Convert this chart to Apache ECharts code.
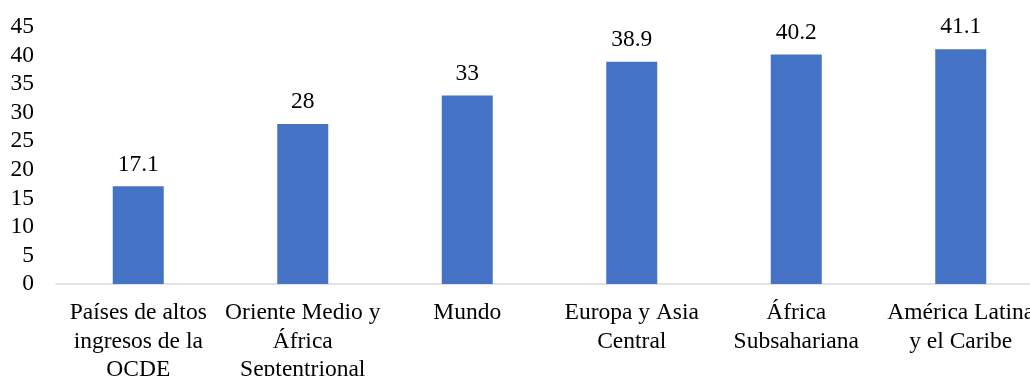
<!DOCTYPE html>
<html>
<head>
<meta charset="utf-8">
<script src="https://cdn.jsdelivr.net/npm/echarts@6/dist/echarts.min.js"></script>
<style>
  html, body { margin: 0; padding: 0; background: #ffffff; }
  #chart { width: 1030px; height: 376px; }
</style>
</head>
<body>
<div id="chart"></div>
<script>
// Regions (line breaks as shown under each bar)
const categories = [
  'Países de altos\ningresos de la\nOCDE',
  'Oriente Medio y\nÁfrica\nSeptentrional',
  'Mundo',
  'Europa y Asia\nCentral',
  'África\nSubsahariana',
  'América Latina\ny el Caribe'
];
// Value per region
const values = [17.1, 28, 33, 38.9, 40.2, 41.1];
// Value axis range
const yMin = 0;
const yMax = 45;
const yStep = 5;

const serif = '"Liberation Serif", "Times New Roman", serif';
const chart = echarts.init(document.getElementById('chart'), null, { renderer: 'canvas' });
chart.setOption({
  animation: false,
  backgroundColor: '#ffffff',
  grid: {
    left: 56, top: 27, width: 987, height: 257,
    containLabel: false,
    outerBoundsMode: 'none'
  },
  xAxis: {
    type: 'category',
    data: categories,
    axisLine: { show: true, lineStyle: { color: '#d9d9d9', width: 1.5 } },
    axisTick: { show: false },
    axisLabel: {
      interval: 0,
      margin: 15,
      color: '#000000',
      fontFamily: serif,
      fontSize: 23.5,
      lineHeight: 28.5,
      align: 'center',
      hideOverlap: false
    }
  },
  yAxis: {
    type: 'value',
    min: yMin,
    max: yMax,
    interval: yStep,
    axisLine: { show: false },
    axisTick: { show: false },
    splitLine: { show: false },
    axisLabel: {
      margin: 22,
      color: '#000000',
      fontFamily: serif,
      fontSize: 23.5
    }
  },
  series: [{
    type: 'bar',
    data: values,
    barWidth: '31%',
    itemStyle: { color: '#4472C4' },
    label: {
      show: true,
      position: 'top',
      distance: 10,
      color: '#000000',
      fontFamily: serif,
      fontSize: 23.5
    }
  }]
});
</script>
</body>
</html>
